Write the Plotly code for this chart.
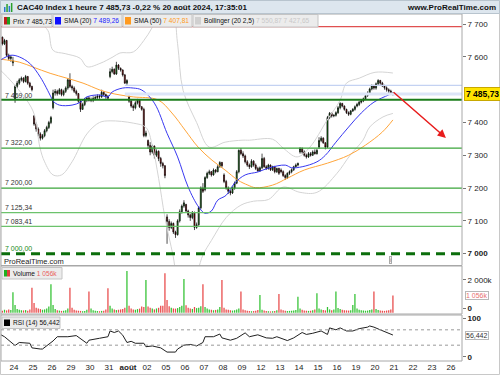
import plotly.graph_objects as go

# ---------------- data ----------------
day_labels = ["24", "25", "26", "29", "30", "31", "août", "02", "05", "06", "07", "08",
              "09", "12", "13", "14", "15", "16", "19", "20", "21", "22", "23", "26"]

# hourly candles: 23 Jul (7 bars) then 20 full days of 9 bars
opens = [
    7655, 7660, 7640, 7650, 7605, 7595, 7582,
    7470, 7510, 7520, 7530, 7535, 7525, 7540, 7520, 7510,
    7420, 7395, 7380, 7365, 7352, 7360, 7375, 7385, 7400,
    7445, 7490, 7495, 7488, 7500, 7485, 7495, 7505, 7530,
    7510, 7505, 7495, 7488, 7465, 7440, 7455, 7470, 7475,
    7468, 7468, 7473, 7476, 7480, 7478, 7492, 7485, 7480,
    7540, 7555, 7562, 7548, 7575, 7565, 7560, 7545, 7520,
    7478, 7465, 7450, 7445, 7460, 7468, 7448, 7440, 7360,
    7345, 7330, 7310, 7328, 7300, 7312, 7290, 7275, 7268,
    7112, 7098, 7080, 7092, 7066, 7058, 7100, 7128, 7145,
    7150, 7130, 7118, 7110, 7126, 7080, 7088, 7140, 7200,
    7195, 7232, 7245, 7250, 7240, 7255, 7250, 7265, 7278,
    7240, 7220, 7200, 7190, 7185, 7200, 7215, 7250, 7315,
    7305, 7298, 7280, 7270, 7265, 7282, 7270, 7260, 7252,
    7262, 7290, 7265, 7260, 7270, 7256, 7265, 7250, 7260,
    7255, 7250, 7238, 7232, 7245, 7250, 7256, 7265, 7270,
    7310, 7320, 7310, 7300, 7295, 7305, 7300, 7310, 7305,
    7325, 7345, 7352, 7338, 7325, 7415, 7428, 7420, 7422,
    7430, 7445, 7458, 7450, 7440, 7430, 7425, 7435, 7440,
    7450, 7455, 7462, 7466, 7472, 7482, 7490, 7502, 7512,
    7505, 7518, 7528, 7520, 7512, 7506, 7500, 7496, 7490,
]
highs = [
    7665, 7662, 7655, 7652, 7610, 7605, 7600,
    7515, 7527, 7535, 7540, 7538, 7545, 7542, 7524, 7512,
    7422, 7400, 7385, 7370, 7365, 7380, 7390, 7405, 7420,
    7500, 7502, 7500, 7505, 7503, 7500, 7510, 7535, 7550,
    7515, 7510, 7500, 7490, 7468, 7460, 7475, 7478, 7480,
    7476, 7480, 7482, 7486, 7485, 7500, 7495, 7488, 7484,
    7565, 7570, 7565, 7585, 7578, 7568, 7562, 7548, 7532,
    7482, 7470, 7455, 7465, 7472, 7470, 7450, 7445, 7375,
    7348, 7340, 7332, 7330, 7318, 7315, 7295, 7280, 7270,
    7120, 7105, 7098, 7095, 7070, 7105, 7135, 7150, 7163,
    7152, 7134, 7122, 7130, 7128, 7095, 7145, 7205, 7215,
    7236, 7250, 7256, 7252, 7260, 7258, 7270, 7282, 7280,
    7245, 7225, 7205, 7195, 7205, 7220, 7255, 7318, 7322,
    7312, 7302, 7285, 7275, 7288, 7285, 7275, 7265, 7266,
    7305, 7295, 7270, 7274, 7272, 7268, 7268, 7262, 7262,
    7260, 7254, 7242, 7248, 7254, 7260, 7268, 7275, 7278,
    7325, 7324, 7315, 7305, 7310, 7310, 7315, 7318, 7320,
    7355, 7358, 7355, 7340, 7420, 7432, 7430, 7425, 7434,
    7450, 7462, 7460, 7452, 7442, 7434, 7438, 7444, 7452,
    7460, 7466, 7470, 7476, 7486, 7495, 7506, 7516, 7515,
    7522, 7532, 7530, 7524, 7515, 7510, 7504, 7500, 7493,
]
lows = [
    7650, 7635, 7636, 7600, 7590, 7585, 7572,
    7460, 7505, 7515, 7525, 7520, 7522, 7515, 7505, 7495,
    7390, 7372, 7358, 7345, 7348, 7355, 7370, 7380, 7395,
    7440, 7482, 7482, 7485, 7480, 7480, 7490, 7500, 7505,
    7498, 7490, 7482, 7460, 7432, 7438, 7450, 7462, 7464,
    7462, 7462, 7468, 7470, 7472, 7475, 7480, 7472, 7470,
    7535, 7550, 7545, 7545, 7560, 7555, 7540, 7518, 7515,
    7460, 7445, 7435, 7440, 7455, 7444, 7436, 7355, 7355,
    7320, 7300, 7305, 7290, 7295, 7282, 7265, 7260, 7230,
    7030, 7070, 7075, 7060, 7048, 7055, 7095, 7122, 7140,
    7125, 7110, 7100, 7105, 7072, 7076, 7085, 7135, 7185,
    7190, 7228, 7240, 7235, 7238, 7245, 7248, 7262, 7262,
    7215, 7195, 7182, 7178, 7182, 7195, 7212, 7245, 7300,
    7292, 7275, 7265, 7258, 7262, 7265, 7255, 7250, 7250,
    7258, 7262, 7255, 7256, 7252, 7252, 7245, 7246, 7240,
    7245, 7234, 7225, 7228, 7240, 7245, 7252, 7262, 7266,
    7305, 7305, 7296, 7290, 7292, 7296, 7298, 7302, 7302,
    7320, 7340, 7335, 7318, 7322, 7410, 7415, 7416, 7418,
    7426, 7440, 7446, 7436, 7426, 7420, 7422, 7432, 7436,
    7446, 7450, 7458, 7462, 7468, 7478, 7486, 7498, 7500,
    7500, 7514, 7515, 7508, 7500, 7494, 7490, 7486, 7482,
]
closes = [
    7660, 7640, 7650, 7605, 7595, 7600, 7588,
    7510, 7520, 7530, 7535, 7525, 7540, 7520, 7510, 7500,
    7395, 7380, 7365, 7352, 7360, 7375, 7385, 7400, 7415,
    7490, 7495, 7488, 7500, 7485, 7495, 7505, 7530, 7510,
    7505, 7495, 7488, 7465, 7440, 7455, 7470, 7475, 7468,
    7468, 7473, 7476, 7480, 7478, 7492, 7485, 7480, 7474,
    7555, 7562, 7548, 7575, 7565, 7560, 7545, 7520, 7528,
    7465, 7450, 7445, 7460, 7468, 7448, 7440, 7360, 7368,
    7330, 7310, 7328, 7300, 7312, 7290, 7275, 7268, 7238,
    7098, 7080, 7092, 7066, 7058, 7100, 7128, 7145, 7155,
    7130, 7118, 7110, 7126, 7080, 7088, 7140, 7200, 7190,
    7232, 7245, 7250, 7240, 7255, 7250, 7265, 7278, 7268,
    7220, 7200, 7190, 7185, 7200, 7215, 7250, 7315, 7305,
    7298, 7280, 7270, 7265, 7282, 7270, 7260, 7252, 7262,
    7290, 7265, 7260, 7270, 7256, 7265, 7250, 7260, 7245,
    7250, 7238, 7232, 7245, 7250, 7256, 7265, 7270, 7275,
    7320, 7310, 7300, 7295, 7305, 7300, 7310, 7305, 7315,
    7345, 7352, 7338, 7325, 7415, 7428, 7420, 7422, 7430,
    7445, 7458, 7450, 7440, 7430, 7425, 7435, 7440, 7448,
    7455, 7462, 7466, 7472, 7482, 7490, 7502, 7512, 7505,
    7518, 7528, 7520, 7512, 7506, 7500, 7496, 7490, 7485.73,
]
volumes_k = [
    150, 120, 180, 140, 200, 160, 1250,
    470, 230, 180, 150, 140, 160, 120, 200, 1530,
    590, 300, 250, 220, 180, 200, 250, 380, 1740,
    470, 220, 150, 130, 110, 120, 150, 260, 1530,
    300, 180, 140, 120, 110, 90, 100, 180, 1290,
    250, 150, 120, 100, 90, 110, 120, 200, 1490,
    420, 250, 200, 160, 180, 200, 220, 300, 2550,
    420, 260, 200, 180, 220, 250, 380, 350, 2000,
    380, 300, 250, 200, 260, 300, 420, 420, 2410,
    780, 400, 300, 260, 250, 280, 350, 420, 2060,
    450, 300, 250, 230, 350, 280, 300, 400, 1740,
    350, 250, 200, 180, 150, 170, 200, 350, 2000,
    300, 200, 180, 150, 130, 150, 200, 250, 1290,
    200, 150, 120, 100, 90, 100, 120, 160, 1080,
    180, 130, 100, 90, 80, 90, 100, 150, 1140,
    200, 150, 120, 100, 110, 120, 130, 170, 980,
    250, 180, 140, 120, 110, 120, 150, 200, 1190,
    250, 200, 160, 140, 350, 200, 150, 200, 1290,
    280, 220, 180, 150, 140, 130, 150, 470, 1140,
    250, 180, 150, 130, 120, 130, 160, 200, 1290,
    230, 170, 140, 120, 110, 130, 150, 200, 1056,
]
first_bar = -7
bars = list(range(first_bar, first_bar + len(closes)))

# indicator lines (bar index, value)
sma20_bar = [-7, -2, 2, 7, 12, 17, 18, 21, 27, 31, 34, 40, 44, 46, 51, 56, 60, 66, 72, 77, 82, 87, 90,
             93, 96, 100, 104, 109, 115, 120, 128, 131, 136, 143, 147, 152, 158, 164, 170, 177, 179]
sma20_val = [7590, 7605, 7600, 7580, 7538, 7478, 7465, 7453, 7453, 7462, 7478, 7484, 7478, 7493, 7505,
             7505, 7499, 7459, 7367, 7295, 7203, 7142, 7123, 7130, 7163, 7178, 7215, 7240, 7249, 7261,
             7270, 7262, 7265, 7280, 7300, 7340, 7386, 7429, 7462, 7484, 7489.26]
sma50_bar = [-7, 2, 8.5, 16.6, 24.6, 32.2, 40.2, 45, 49.7, 56, 67.7, 74.3, 80.5, 86.7, 93.3, 99.5,
             105.6, 110.3, 114, 122, 129, 137, 148, 158, 166, 174, 179]
sma50_val = [7593, 7584, 7569, 7550, 7535, 7520, 7499, 7490, 7484, 7478, 7469, 7429, 7377, 7325, 7285,
             7255, 7224, 7209, 7201, 7209, 7230, 7255, 7276, 7300, 7331, 7371, 7407.81]
boll_up_bar = [-7, 2, 12, 15.6, 18, 23.7, 30.8, 34.1, 40.2, 46.4, 49.7, 56, 61, 65, 69, 74, 77, 79.6,
               86, 92, 99.5, 107.5, 111, 122, 127, 133.6, 139.7, 147.8, 154, 157, 163, 170.5, 179]
boll_up_val = [7720, 7712, 7700, 7680, 7620, 7610, 7596, 7570, 7580, 7600, 7612, 7615, 7650, 7690,
               7745, 7760, 7640, 7498, 7400, 7325, 7340, 7346, 7346, 7349, 7322, 7295, 7325, 7407,
               7468, 7520, 7535, 7553, 7550.87]
boll_lo_bar = [-7, -1, 8.5, 11.8, 14, 18, 22, 27, 34, 40, 45, 56, 62, 65, 68, 71, 74.8, 77, 82, 86.5,
               89, 93, 100, 107, 113, 120, 127, 135, 143, 152.5, 158.7, 164.8, 168, 174.3, 179]
boll_lo_val = [7560, 7520, 7435, 7323, 7280, 7240, 7240, 7280, 7365, 7400, 7405, 7398, 7385, 7330,
               7230, 7110, 6996, 6930, 6900, 6950, 6996, 7040, 7110, 7148, 7160, 7165, 7203, 7187,
               7187, 7245, 7300, 7346, 7386, 7417, 7427.65]

rsi_bar = [-7, -5, 0, 2, 7, 8, 12, 13, 18, 20, 25, 29, 34, 35, 40, 44, 45, 47, 49, 51, 53, 55, 57,
           61, 62, 65, 69, 72, 76, 77, 80, 83, 86, 89, 90, 94, 97, 98, 102, 105, 109, 111, 115, 119,
           122, 124, 129, 132, 136, 138, 141, 145, 148, 149, 152, 154, 157, 160, 163, 167, 168, 170,
           173, 176, 179]
rsi_val = [58, 52, 29, 37, 35, 23, 20, 20, 41, 52, 52, 55, 35, 43, 48, 52, 67, 63, 67, 56, 37, 40, 35,
           35, 26, 28, 23, 12, 12, 20, 30, 32, 28, 37, 52, 52, 59, 49, 43, 48, 62, 52, 57, 49, 48, 52,
           42, 49, 63, 58, 61, 67, 58, 75, 70, 75, 67, 67, 73, 77, 80, 77, 70, 63, 56.442]

levels_green = [7469.00, 7322.00, 7200.00, 7125.34, 7083.41]
level_support = 7000.00
level_red = 7692
levels_blue = [7513, 7487]
main_ticks = [7000, 7100, 7200, 7300, 7400, 7600, 7700]
arrow_start = (178.6, 7496)
arrow_end = (204.1, 7353)

# ---------------- geometry ----------------
W, H = 500, 375
ML, MR, MT, MB = 1, 38, 14, 14
PW, PH = W - ML - MR, H - MT - MB


def px(x):
    return (x - ML) / PW


def py(y):
    return (H - MB - y) / PH


FONT = "Liberation Sans, Arial, sans-serif"
XR = [-0.5 - 13 / 2.111, -0.5 + 448 / 2.111]

fig = go.Figure()

# Bollinger, SMA lines
for xs, ys in [(boll_up_bar, boll_up_val), (boll_lo_bar, boll_lo_val)]:
    fig.add_trace(go.Scatter(x=xs, y=ys, mode="lines", line=dict(color="#d4d4d4", width=1, shape="spline"),
                             xaxis="x", yaxis="y", hoverinfo="skip"))
fig.add_trace(go.Scatter(x=sma50_bar, y=sma50_val, mode="lines",
                         line=dict(color="#ffa53a", width=1, shape="spline"), xaxis="x", yaxis="y"))
fig.add_trace(go.Scatter(x=sma20_bar, y=sma20_val, mode="lines",
                         line=dict(color="#3838f0", width=1, shape="spline"), xaxis="x", yaxis="y"))

fig.add_trace(go.Candlestick(
    x=bars, open=opens, high=highs, low=lows, close=closes, xaxis="x", yaxis="y",
    increasing=dict(line=dict(color="#000000", width=0.7), fillcolor="#1f9a1f"),
    decreasing=dict(line=dict(color="#000000", width=0.7), fillcolor="#b01010"),
    whiskerwidth=0,
))

vol_colors = ["#33c233" if c >= o else "#e84a4a" for o, c in zip(opens, closes)]
fig.add_trace(go.Bar(x=bars, y=volumes_k, marker=dict(color=vol_colors, line=dict(width=0)),
                     width=0.6, xaxis="x2", yaxis="y2"))
fig.add_trace(go.Scatter(x=rsi_bar, y=rsi_val, mode="lines", line=dict(color="#202020", width=1),
                         xaxis="x3", yaxis="y3"))

shapes = []
# level lines
for lv in levels_green:
    col, wd = ("#1b7d1b", 2) if lv == 7469.00 else (("#3aa53a", 1.2) if lv >= 7200 else ("#6cc26c", 1.2))
    shapes.append(dict(type="line", xref="paper", yref="y", x0=0, x1=1, y0=lv, y1=lv,
                       line=dict(color=col, width=wd)))
shapes.append(dict(type="line", xref="paper", yref="y", x0=0, x1=1, y0=level_support, y1=level_support,
                   line=dict(color="#0b6e0b", width=3, dash="9px,6px")))
shapes.append(dict(type="line", xref="paper", yref="y", x0=0, x1=1, y0=level_red, y1=level_red,
                   line=dict(color="#e05050", width=1.3)))
shapes.append(dict(type="line", xref="x", yref="y", x0=52, x1=XR[1], y0=levels_blue[0], y1=levels_blue[0],
                   line=dict(color="#c4d2f2", width=1.2)))
shapes.append(dict(type="line", xref="x", yref="y", x0=52, x1=XR[1], y0=levels_blue[1], y1=levels_blue[1],
                   line=dict(color="#dce5f8", width=3)))
# RSI 70 / 30
for lv in [70, 30]:
    shapes.append(dict(type="line", xref="paper", yref="y3", x0=0, x1=1, y0=lv, y1=lv,
                       line=dict(color="#999999", width=1, dash="3px,3px")))

# panel frames
frame = "#a8a8a8"
for top, bot in [(14, 265.5), (266, 314), (315, 361)]:
    shapes.append(dict(type="rect", xref="paper", yref="paper", x0=px(1), x1=px(462),
                       y0=py(bot), y1=py(top), line=dict(color=frame, width=1)))
shapes.append(dict(type="rect", xref="paper", yref="paper", x0=px(0.5), x1=px(499.5),
                   y0=py(374.5), y1=py(0.5), line=dict(color="#c8c8c8", width=1)))
# title bar
shapes.append(dict(type="rect", xref="paper", yref="paper", x0=px(0.5), x1=px(499.5), y0=py(13.5), y1=py(0.5),
                   fillcolor="#dde6ee", line=dict(color="#b8c4ce", width=1), layer="above"))
# title icon
for i, (h_, c_) in enumerate([(5, "#2a7bd0"), (8, "#2aa02a"), (6, "#2a7bd0"), (9, "#2aa02a")]):
    shapes.append(dict(type="rect", xref="paper", yref="paper", x0=px(4 + 2.3 * i), x1=px(5.5 + 2.3 * i),
                       y0=py(12), y1=py(12 - h_), fillcolor=c_, line=dict(width=0), layer="above"))

annotations = []


def text(x, y, t, size=7.5, color="#222", anchor="left", bold=False, yref="paper", xref="paper", **kw):
    annotations.append(dict(x=x, y=y, xref=xref, yref=yref, text=("<b>%s</b>" % t) if bold else t,
                            showarrow=False, xanchor=anchor, yanchor="middle",
                            font=dict(size=size, color=color, family=FONT), **kw))


text(px(15), py(7), "CAC40 Index 1 heure 7 485,73 -0,22 % 20 août 2024, 17:35:01", size=8, bold=True, color="#111")
text(px(498), py(7), "www.ProRealTime.com", size=8, bold=True, color="#111", anchor="right")

# legend boxes
legend_boxes = [
    (2, 52, ["#c02020", "#20a020"], "Prix 7 485,73"),
    (53, 122, ["#1010ff"], "SMA (20) <span style='color:#2020ff'>7 489,26</span>"),
    (123, 192, ["#ff9a20"], "SMA (50) <span style='color:#ff9a20'>7 407,81</span>"),
    (193, 318, ["#d0d0d0"], "Bollinger (20 2,5) <span style='color:#c8c8c8'>7 550,87 7 427,65</span>"),
]
for x0, x1, cols, lab in legend_boxes:
    shapes.append(dict(type="rect", xref="paper", yref="paper", x0=px(x0), x1=px(x1), y0=py(27), y1=py(14.5),
                       fillcolor="#ececec", line=dict(color="#c4c4c4", width=1), layer="above"))
    n = len(cols)
    for i, c in enumerate(cols):
        shapes.append(dict(type="rect", xref="paper", yref="paper", x0=px(x0 + 2 + 6 * i / n),
                           x1=px(x0 + 2 + 6 * (i + 1) / n), y0=py(24.5), y1=py(17),
                           fillcolor=c, line=dict(width=0), layer="above"))
    text(px(x0 + 8.5), py(21), lab, size=6.6, color="#111")

# volume / RSI legend boxes
shapes.append(dict(type="rect", xref="paper", yref="paper", x0=px(2), x1=px(62), y0=py(279), y1=py(267.5),
                   fillcolor="#ececec", line=dict(color="#c4c4c4", width=1), layer="above"))
shapes.append(dict(type="rect", xref="paper", yref="paper", x0=px(4), x1=px(7), y0=py(276.5), y1=py(270),
                   fillcolor="#20b020", line=dict(width=0), layer="above"))
shapes.append(dict(type="rect", xref="paper", yref="paper", x0=px(7), x1=px(10), y0=py(276.5), y1=py(270),
                   fillcolor="#e04040", line=dict(width=0), layer="above"))
text(px(10.5), py(273.5), "Volume <span style='color:#e86060'>1 056k</span>", size=6.6, color="#111")
shapes.append(dict(type="rect", xref="paper", yref="paper", x0=px(2), x1=px(60), y0=py(328.5), y1=py(317),
                   fillcolor="#ececec", line=dict(color="#c4c4c4", width=1), layer="above"))
shapes.append(dict(type="rect", xref="paper", yref="paper", x0=px(4), x1=px(10), y0=py(326), y1=py(319.5),
                   fillcolor="#000000", line=dict(width=0), layer="above"))
text(px(10.5), py(323), "RSI (14) 56,442", size=6.6, color="#111")

# level labels
for t, yy, c in [("7 469,00", 95, "#333"), ("7 322,00", 142.5, "#333"), ("7 200,00", 182.5, "#333"),
                 ("7 125,34", 207, "#333"), ("7 083,41", 221, "#333"), ("7 000,00", 248.5, "#1a8a1a")]:
    text(px(3), py(yy), t, size=7, color=c)
text(px(2), py(261), "ProRealTime.com", size=7.5, color="#222")
text(px(390), py(260), "i", size=6, color="#777", anchor="center", bordercolor="#aaa", borderwidth=1,
     borderpad=0, bgcolor="#f4f4f4")

# right-side value boxes
annotations.append(dict(x=px(463.5), y=closes[-1], xref="paper", yref="y", text="<b>7 485,73</b>",
                        showarrow=False, xanchor="left", yanchor="middle", bgcolor="#ffe400",
                        bordercolor="#c8a800", borderwidth=1, borderpad=1,
                        font=dict(size=8.5, color="#000", family=FONT)))
annotations.append(dict(x=px(465), y=volumes_k[-1], xref="paper", yref="y2", text="1 056k",
                        showarrow=False, xanchor="left", yanchor="middle", bgcolor="#ffffff",
                        bordercolor="#b8b8b8", borderwidth=1, borderpad=0,
                        font=dict(size=7, color="#e87070", family=FONT)))
annotations.append(dict(x=px(465), y=rsi_val[-1], xref="paper", yref="y3", text="56,442",
                        showarrow=False, xanchor="left", yanchor="middle", bgcolor="#ffffff",
                        bordercolor="#b8b8b8", borderwidth=1, borderpad=0,
                        font=dict(size=7, color="#333", family=FONT)))
# red arrow
annotations.append(dict(x=arrow_end[0], y=arrow_end[1], ax=arrow_start[0], ay=arrow_start[1],
                        xref="x", yref="y", axref="x", ayref="y", text="", showarrow=True,
                        arrowhead=2, arrowsize=1.1, arrowwidth=1.5, arrowcolor="#e81c1c"))

tickvals = [9 * k - 0.5 for k in range(len(day_labels))]
ticktext = ["<b>%s</b>" % d if d == "août" else d for d in day_labels]

xcommon = dict(range=XR, showgrid=False, zeroline=False, showline=False, fixedrange=True)
ycommon = dict(side="right", showgrid=False, zeroline=False, showline=False, ticks="outside", ticklen=3,
               tickcolor="#777", tickfont=dict(size=8, color="#222", family=FONT))

main_text = ["<b>7 000</b>" if v == 7000 else "%d %03d" % (v // 1000, v % 1000) for v in main_ticks]

fig.update_layout(
    width=W, height=H, margin=dict(l=ML, r=MR, t=MT, b=MB, pad=0),
    paper_bgcolor="white", plot_bgcolor="white", showlegend=False,
    font=dict(family=FONT, size=8, color="#222"),
    xaxis=dict(**xcommon, domain=[0, 1], anchor="y", showticklabels=False, rangeslider=dict(visible=False)),
    xaxis2=dict(**xcommon, domain=[0, 1], anchor="y2", showticklabels=False, matches="x"),
    xaxis3=dict(**xcommon, domain=[0, 1], anchor="y3", matches="x", tickmode="array", tickvals=tickvals,
                ticktext=ticktext, ticks="", tickfont=dict(size=8, color="#222", family=FONT)),
    yaxis=dict(**ycommon, domain=[py(265.5), py(14)], anchor="x", range=[6963.9, 7730.8],
               tickmode="array", tickvals=main_ticks, ticktext=main_text),
    yaxis2=dict(**ycommon, domain=[py(314), py(266)], anchor="x2", range=[-80, 2856],
                tickmode="array", tickvals=[260, 2000], ticktext=["<b>0</b>", "2 000k"]),
    yaxis3=dict(**ycommon, domain=[py(361), py(315)], anchor="x3", range=[-11.2, 108.6],
                tickmode="array", tickvals=[0, 100], ticktext=["<b>0</b>", "<b>100</b>"]),
    shapes=shapes, annotations=annotations,
)

fig.write_html("out.html", config={"displayModeBar": False, "staticPlot": True},
               post_script="document.body.style.margin='0';document.body.style.overflow='hidden';")
